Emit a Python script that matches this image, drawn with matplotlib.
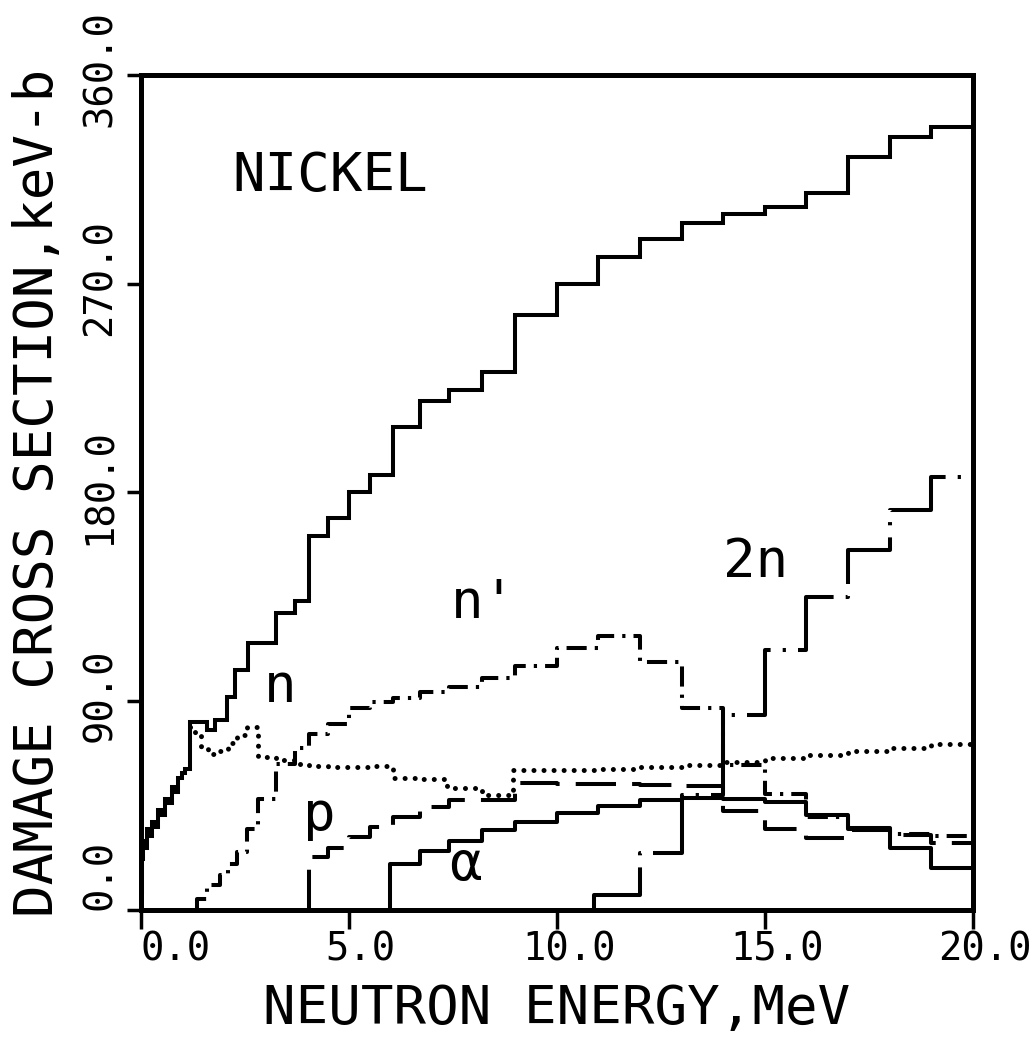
import matplotlib
matplotlib.use("Agg")
import matplotlib.pyplot as plt
from matplotlib.transforms import ScaledTranslation
import numpy as np

plt.rcParams['font.family'] = ['DejaVu Sans Mono', 'DejaVu Sans']

# total damage cross section (keV-b), group edges in MeV
total_edges = [0.0, 0.03, 0.06, 0.1, 0.15, 0.2, 0.27, 0.34, 0.42, 0.5, 0.58, 0.66,
               0.74, 0.82, 0.9, 0.98, 1.06, 1.18, 1.6, 1.78, 2.07, 2.26, 2.57, 3.25,
               3.7, 4.05, 4.5, 5.0, 5.5, 6.05, 6.7, 7.4, 8.2, 9.0,
               10, 11, 12, 13, 14, 15, 16, 17, 18, 19, 20]
total_vals = [8, 22, 30, 27, 35, 32, 38, 36, 43, 41, 48, 46,
              53, 51, 57, 59, 61, 81, 77.5, 82, 92, 103.5, 115,
              128, 133, 161, 169, 180, 187.5, 208, 219.5, 224, 232,
              256.5, 270, 281.5, 289, 296, 300, 303, 309, 324.5, 333, 337.5]

# elastic (n)
elastic_edges = [1.18, 1.3, 1.45, 1.62, 1.9, 2.1, 2.3, 2.55, 2.82, 3.25, 3.7, 4.05,
                 4.5, 5.0, 5.5, 6.05, 6.7, 7.35, 8.2, 8.95,
                 10, 11, 12, 13, 14, 15, 16, 17, 18, 19, 20]
elastic_vals = [79, 75, 70.5, 67.5, 68.5, 72, 75.5, 79, 66, 64.5, 63,
                62, 61.5, 61.5, 62, 57, 56.5, 52.5, 49.5, 60.5,
                60.5, 61, 61.5, 62.5, 64, 65.5, 67, 68.5, 70, 71.5]

# inelastic (n')
inel_edges = [1.35, 1.6, 1.9, 2.1, 2.3, 2.55, 2.82, 3.25, 3.7, 4.05, 4.5, 5.0,
              5.5, 6.05, 6.7, 7.4, 8.2, 9.0,
              10, 11, 12, 13, 14, 15, 16, 17, 18, 19, 20]
inel_vals = [5, 11, 15, 20, 25, 35, 48, 63, 70, 76, 80, 87,
             89.5, 91.5, 94, 96, 100, 105, 113, 118, 107, 87, 62.5,
             50, 40, 35, 33, 32]

# (n,p)
p_edges = [4.05, 4.5, 5.0, 5.5, 6.05, 6.7, 7.4, 8.2, 9.0,
           10, 11, 12, 13, 14, 15, 16, 17, 18, 19, 20]
p_vals = [23, 27, 31.5, 36, 40, 44.6, 47.4, 47.5,
          54.7, 54.5, 54.5, 54, 53.5, 42.7, 35, 31, 34.5, 32.5, 29]

# (n,alpha)
a_edges = [6.0, 6.7, 7.4, 8.2, 9.0, 10, 11, 12, 13, 14, 15, 16, 17, 18, 19, 20]
a_vals = [20, 25.5, 30, 34.5, 38, 42, 45, 47.4, 48.5, 48, 46.5, 41, 35.5, 27, 18.3]

# (n,2n)
n2_edges = [10.9, 12, 13, 14, 15, 16, 17, 18, 19, 20]
n2_vals = [6.5, 24.6, 49.5, 84, 112, 135, 155, 172.5, 186.5]


def step_line(ax, edges, vals, from_zero=True, **kw):
    edges = np.asarray(edges, float)
    vals = np.asarray(vals, float)
    if from_zero:
        x = np.r_[edges[0], edges]
        y = np.r_[0, vals, vals[-1]]
    else:
        x = edges
        y = np.r_[vals, vals[-1]]
    ax.step(x, y, where='post', color='black', **kw)


fig = plt.figure(figsize=(10.36, 10.51), dpi=100)
ax = fig.add_axes([0.136, 0.134, 0.803, 0.795])

lw = 2.9
step_line(ax, total_edges, total_vals, lw=lw, solid_joinstyle='miter')
step_line(ax, elastic_edges, elastic_vals, from_zero=False, lw=3.6,
          linestyle=(0, (0.01, 2.0)), dash_capstyle='round')
step_line(ax, inel_edges, inel_vals, lw=lw, linestyle=(0, (5, 2, 0.8, 2)))
step_line(ax, p_edges, p_vals, lw=lw, linestyle=(0, (10, 4)))
step_line(ax, a_edges, a_vals, lw=lw)
step_line(ax, n2_edges, n2_vals, lw=lw, linestyle=(0, (22, 3, 0.8, 3)))

big = 39
ax.text(2.2, 310, 'NICKEL', fontsize=big, ha='left', va='baseline')
ax.text(2.95, 89.5, 'n', fontsize=big, ha='left', va='baseline')
ax.text(7.45, 126, "n'", fontsize=big, ha='left', va='baseline')
ax.text(14.0, 143.5, '2n', fontsize=big, ha='left', va='baseline')
ax.text(3.9, 34.5, 'p', fontsize=big, ha='left', va='baseline')
ax.text(7.4, 13, 'α', fontsize=big, ha='left', va='baseline')

ax.set_xlim(0, 20)
ax.set_ylim(0, 360)
ax.set_xticks([0, 5, 10, 15, 20])
ax.set_xticklabels(['0.0', '5.0', '10.0', '15.0', '20.0'])
ax.set_yticks([0, 90, 180, 270, 360])
ax.set_yticklabels(['0.0', '90.0', '180.0', '270.0', '360.0'], rotation=90,
                   va='center', ha='right')

ax.tick_params(axis='x', direction='out', length=14, width=2.5, labelsize=28, pad=1)
ax.tick_params(axis='y', direction='out', length=10, width=2.5, labelsize=28, pad=6)

for sp in ax.spines.values():
    sp.set_linewidth(3.6)

shift_x = ScaledTranslation(0.12, 0, fig.dpi_scale_trans)
xl = ax.get_xticklabels()
xl[0].set_ha('left')
for lab in xl[1:]:
    lab.set_transform(lab.get_transform() + shift_x)

shift_y = ScaledTranslation(0, 0.06, fig.dpi_scale_trans)
yl = ax.get_yticklabels()
yl[0].set_va('bottom')
for lab in yl[1:]:
    lab.set_transform(lab.get_transform() + shift_y)

ax.set_xlabel('NEUTRON ENERGY,MeV', fontsize=big)
ax.set_ylabel('DAMAGE CROSS SECTION,keV-b', fontsize=big)
ax.xaxis.set_label_coords(0.5, -0.087)
ax.yaxis.set_label_coords(-0.092, 0.5)

fig.savefig('out.png', dpi=100)
